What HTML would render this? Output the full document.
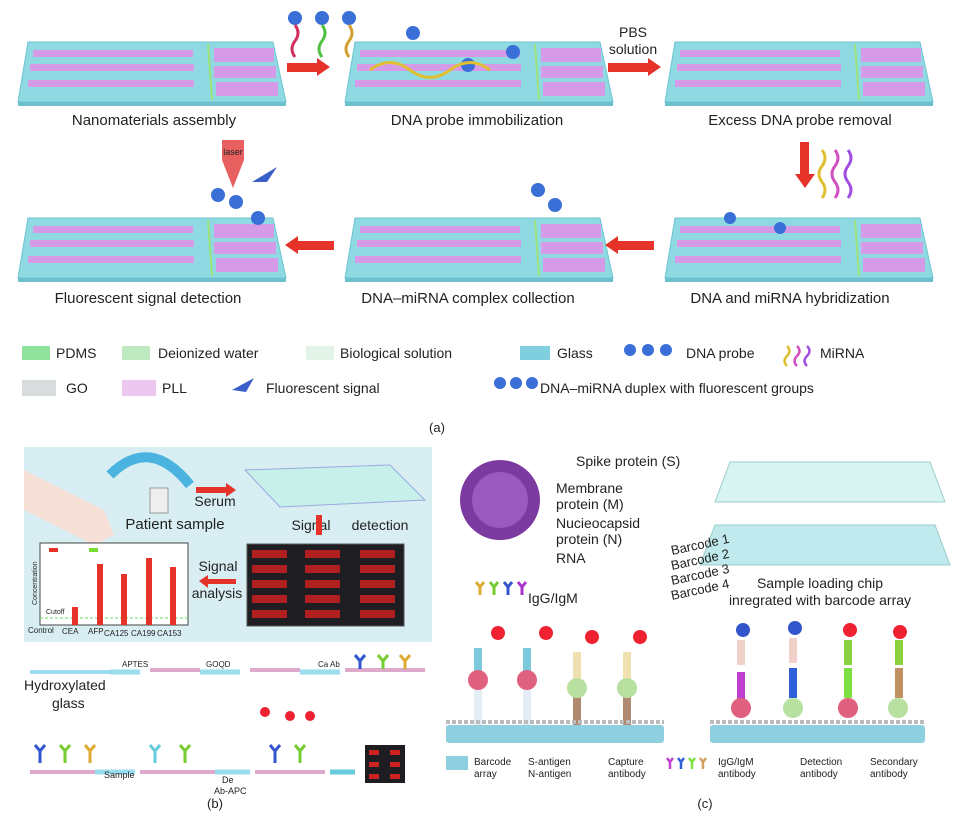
<!DOCTYPE html>
<html><head><meta charset="utf-8"><style>
body{margin:0;background:#fff}
svg{display:block}
text{font-family:"Liberation Sans",sans-serif;fill:#222}
</style></head><body>
<svg width="955" height="824" viewBox="0 0 955 824" xmlns="http://www.w3.org/2000/svg">
<defs>
<g id="chip">
<polygon points="10,0 255,0 268,60 0,60" fill="#8fd9e3" stroke="#6cc4d2"/>
<polygon points="0,60 268,60 268,64 0,64" fill="#6cc0cc"/>
<rect x="15" y="8" width="160" height="7" fill="#d59be6"/>
<rect x="12" y="22" width="164" height="7" fill="#d59be6"/>
<rect x="10" y="38" width="166" height="7" fill="#d59be6"/>
<rect x="196" y="6" width="60" height="14" fill="#d59be6"/>
<rect x="196" y="24" width="62" height="12" fill="#d59be6"/>
<rect x="198" y="40" width="62" height="14" fill="#d59be6"/>
<line x1="190" y1="2" x2="194" y2="58" stroke="#9be37a" stroke-width="2"/>
</g>
</defs>

<!-- row 1 -->
<use href="#chip" x="18" y="42"/>
<use href="#chip" x="345" y="42"/>
<use href="#chip" x="665" y="42"/>
<text x="154" y="125" font-size="15" text-anchor="middle">Nanomaterials assembly</text>
<text x="477" y="125" font-size="15" text-anchor="middle">DNA probe immobilization</text>
<text x="800" y="125" font-size="15" text-anchor="middle">Excess DNA probe removal</text>
<rect x="287" y="63" width="30" height="9" fill="#e5332a"/><polygon points="317,58 330,67 317,76" fill="#e5332a"/>
<rect x="608" y="63" width="40" height="9" fill="#e5332a"/><polygon points="648,58 661,67 648,76" fill="#e5332a"/>
<text x="633" y="37" font-size="14" text-anchor="middle">PBS</text>
<text x="633" y="54" font-size="14" text-anchor="middle">solution</text>
<g fill="#3a6fd8"><circle cx="295" cy="18" r="7"/><circle cx="322" cy="18" r="7"/><circle cx="349" cy="18" r="7"/><circle cx="413" cy="33" r="7"/><circle cx="513" cy="52" r="7"/><circle cx="468" cy="65" r="7"/></g>
<path d="M295,25 q6,8 0,16 q-6,8 0,16" stroke="#d03060" stroke-width="3" fill="none"/>
<path d="M322,25 q6,8 0,16 q-6,8 0,16" stroke="#50c040" stroke-width="3" fill="none"/>
<path d="M349,25 q6,8 0,16 q-6,8 0,16" stroke="#d0a030" stroke-width="3" fill="none"/>
<path d="M370,70 q20,-15 40,0 q20,15 40,0 q20,-15 40,0" stroke="#e0c030" stroke-width="3" fill="none"/>

<!-- row 2 -->
<use href="#chip" x="18" y="218"/>
<use href="#chip" x="345" y="218"/>
<use href="#chip" x="665" y="218"/>
<text x="148" y="303" font-size="15" text-anchor="middle">Fluorescent signal detection</text>
<text x="468" y="303" font-size="15" text-anchor="middle">DNA–miRNA complex collection</text>
<text x="790" y="303" font-size="15" text-anchor="middle">DNA and miRNA hybridization</text>
<rect x="800" y="142" width="9" height="32" fill="#e5332a"/><polygon points="795,174 805,188 815,174" fill="#e5332a"/>
<path d="M822,150 q6,8 0,16 q-6,8 0,16 q6,8 0,16" stroke="#e0c030" stroke-width="3" fill="none"/>
<path d="M835,150 q6,8 0,16 q-6,8 0,16 q6,8 0,16" stroke="#d050c0" stroke-width="3" fill="none"/>
<path d="M848,150 q6,8 0,16 q-6,8 0,16 q6,8 0,16" stroke="#a050e0" stroke-width="3" fill="none"/>
<rect x="618" y="241" width="36" height="9" fill="#e5332a"/><polygon points="618,236 605,245 618,254" fill="#e5332a"/>
<rect x="298" y="241" width="36" height="9" fill="#e5332a"/><polygon points="298,236 285,245 298,254" fill="#e5332a"/>
<polygon points="222,140 244,140 244,160 233,188 222,160" fill="#e86060"/>
<text x="233" y="155" font-size="9" text-anchor="middle" fill="#fff">laser</text>
<g fill="#3a6fd8"><circle cx="218" cy="195" r="7"/><circle cx="236" cy="202" r="7"/><circle cx="258" cy="218" r="7"/><circle cx="538" cy="190" r="7"/><circle cx="555" cy="205" r="7"/><circle cx="730" cy="218" r="6"/><circle cx="780" cy="228" r="6"/></g>
<path d="M252,182 l25,-15 l-10,15z" fill="#3a5fc8"/>

<!-- legend -->
<g font-size="14">
<rect x="22" y="346" width="28" height="14" fill="#8fe39a"/><text x="56" y="358">PDMS</text>
<rect x="122" y="346" width="28" height="14" fill="#bfe9c0"/><text x="158" y="358">Deionized water</text>
<rect x="306" y="346" width="28" height="14" fill="#e2f4e8"/><text x="340" y="358">Biological solution</text>
<rect x="520" y="346" width="30" height="14" fill="#7fcfdf"/><text x="557" y="358">Glass</text>
<circle cx="630" cy="350" r="6" fill="#3a6fd8"/><circle cx="648" cy="350" r="6" fill="#3a6fd8"/><circle cx="666" cy="350" r="6" fill="#3a6fd8"/><text x="686" y="358">DNA probe</text>
<path d="M787,346 q5,5 0,10 q-5,5 0,10" stroke="#e0c030" stroke-width="2.5" fill="none"/><path d="M797,346 q5,5 0,10 q-5,5 0,10" stroke="#d050c0" stroke-width="2.5" fill="none"/><path d="M807,346 q5,5 0,10 q-5,5 0,10" stroke="#a050e0" stroke-width="2.5" fill="none"/><text x="820" y="358">MiRNA</text>
<rect x="22" y="380" width="34" height="16" fill="#d8dcdc"/><text x="66" y="393">GO</text>
<rect x="122" y="380" width="34" height="16" fill="#ecc8f0"/><text x="162" y="393">PLL</text>
<path d="M232,390 l22,-12 l-8,14z" fill="#3a5fc8"/><text x="266" y="393">Fluorescent signal</text>
<circle cx="500" cy="383" r="6" fill="#3a6fd8"/><circle cx="516" cy="383" r="6" fill="#3a6fd8"/><circle cx="532" cy="383" r="6" fill="#3a6fd8"/><text x="540" y="393">DNA–miRNA duplex with fluorescent groups</text>
</g>
<text x="437" y="432" font-size="13" text-anchor="middle">(a)</text>

<!-- panel b -->
<rect x="24" y="447" width="408" height="195" fill="#d8eef3"/>
<path d="M110,475 q40,-40 80,10" stroke="#4ab3e0" stroke-width="10" fill="none"/>
<path d="M24,470 l80,40 l10,25 l-20,10 l-70,-35z" fill="#f6e0d8"/>
<rect x="150" y="488" width="18" height="25" fill="#eee" stroke="#999"/>
<text x="175" y="529" font-size="15" text-anchor="middle">Patient sample</text>
<rect x="196" y="487" width="30" height="6" fill="#e5332a"/><polygon points="226,483 236,490 226,497" fill="#e5332a"/>
<text x="215" y="506" font-size="14" text-anchor="middle">Serum</text>
<polygon points="245,470 390,465 425,500 280,507" fill="#c8f0ea" stroke="#9ad"/>
<text x="311" y="530" font-size="14" text-anchor="middle">Signal</text>
<text x="380" y="530" font-size="14" text-anchor="middle">detection</text>
<rect x="316" y="515" width="6" height="20" fill="#e5332a"/>
<rect x="247" y="544" width="157" height="82" fill="#1e1e22" stroke="#555"/>
<g fill="#b02020">
<rect x="252" y="550" width="35" height="8"/><rect x="305" y="550" width="35" height="8"/><rect x="360" y="550" width="35" height="8"/>
<rect x="252" y="565" width="35" height="8"/><rect x="305" y="565" width="35" height="8"/><rect x="360" y="565" width="35" height="8"/>
<rect x="252" y="580" width="35" height="8"/><rect x="305" y="580" width="35" height="8"/><rect x="360" y="580" width="35" height="8"/>
<rect x="252" y="595" width="35" height="8"/><rect x="305" y="595" width="35" height="8"/><rect x="360" y="595" width="35" height="8"/>
<rect x="252" y="610" width="35" height="8"/><rect x="305" y="610" width="35" height="8"/><rect x="360" y="610" width="35" height="8"/>
</g>
<text x="218" y="571" font-size="14" text-anchor="middle">Signal</text>
<text x="217" y="598" font-size="14" text-anchor="middle">analysis</text>
<rect x="208" y="579" width="28" height="5" fill="#e5332a"/><polygon points="208,575 199,581 208,588" fill="#e5332a"/>
<rect x="40" y="543" width="148" height="82" fill="#fff" stroke="#444"/>
<text x="37" y="605" font-size="7" transform="rotate(-90 37 605)">Concentration</text>
<line x1="40" y1="618" x2="188" y2="618" stroke="#6d6" stroke-dasharray="3,2"/>
<text x="46" y="614" font-size="7" fill="#6c6">Cutoff</text>
<rect x="49" y="548" width="9" height="4" fill="#e5332a"/><rect x="89" y="548" width="9" height="4" fill="#7d3"/>
<g fill="#e5332a"><rect x="72" y="607" width="6" height="18"/><rect x="97" y="564" width="6" height="61"/><rect x="121" y="574" width="6" height="51"/><rect x="146" y="558" width="6" height="67"/><rect x="170" y="567" width="6" height="58"/></g>
<g font-size="8" fill="#333"><text x="28" y="633">Control</text><text x="62" y="634">CEA</text><text x="88" y="634">AFP</text><text x="104" y="636">CA125</text><text x="131" y="636">CA199</text><text x="157" y="636">CA153</text></g>
<line x1="30" y1="672" x2="110" y2="672" stroke="#9de" stroke-width="4"/>
<text x="24" y="690" font-size="14">Hydroxylated</text>
<text x="52" y="708" font-size="14">glass</text>
<line x1="110" y1="672" x2="140" y2="672" stroke="#9de" stroke-width="5"/>
<text x="122" y="667" font-size="8">APTES</text>
<line x1="150" y1="670" x2="200" y2="670" stroke="#dac" stroke-width="4"/>
<text x="206" y="667" font-size="8">GOQD</text>
<line x1="200" y1="672" x2="240" y2="672" stroke="#9de" stroke-width="5"/>
<line x1="250" y1="670" x2="300" y2="670" stroke="#dac" stroke-width="4"/>
<text x="318" y="667" font-size="8">Ca Ab</text>
<line x1="300" y1="672" x2="340" y2="672" stroke="#9de" stroke-width="5"/>
<line x1="345" y1="670" x2="425" y2="670" stroke="#dac" stroke-width="4"/>
<g stroke-width="3" fill="none"><path d="M355,655 l5,6 l5,-6 M360,661 v8" stroke="#35c"/><path d="M378,655 l5,6 l5,-6 M383,661 v8" stroke="#7c3"/><path d="M400,655 l5,6 l5,-6 M405,661 v8" stroke="#da3"/></g>
<line x1="30" y1="772" x2="95" y2="772" stroke="#dac" stroke-width="4"/>
<line x1="95" y1="772" x2="135" y2="772" stroke="#9de" stroke-width="5"/>
<text x="104" y="778" font-size="9">Sample</text>
<line x1="140" y1="772" x2="215" y2="772" stroke="#dac" stroke-width="4"/>
<line x1="215" y1="772" x2="250" y2="772" stroke="#9de" stroke-width="5"/>
<text x="222" y="783" font-size="9">De</text><text x="214" y="794" font-size="9">Ab-APC</text>
<line x1="255" y1="772" x2="325" y2="772" stroke="#dac" stroke-width="4"/>
<line x1="330" y1="772" x2="355" y2="772" stroke="#6cd" stroke-width="5"/>
<rect x="365" y="745" width="40" height="38" fill="#1e1e22"/>
<g fill="#c22"><rect x="369" y="750" width="10" height="5"/><rect x="390" y="750" width="10" height="5"/><rect x="369" y="762" width="10" height="5"/><rect x="390" y="762" width="10" height="5"/><rect x="369" y="774" width="10" height="5"/><rect x="390" y="774" width="10" height="5"/></g>
<g fill="#e23"><circle cx="265" cy="712" r="5"/><circle cx="290" cy="716" r="5"/><circle cx="310" cy="716" r="5"/></g>
<g stroke-width="3" fill="none"><path d="M35,745 l5,6 l5,-6 M40,751 v12" stroke="#35c"/><path d="M60,745 l5,6 l5,-6 M65,751 v12" stroke="#7c3"/><path d="M85,745 l5,6 l5,-6 M90,751 v12" stroke="#da3"/><path d="M150,745 l5,6 l5,-6 M155,751 v12" stroke="#6cd"/><path d="M180,745 l5,6 l5,-6 M185,751 v12" stroke="#7c3"/><path d="M270,745 l5,6 l5,-6 M275,751 v12" stroke="#35c"/><path d="M295,745 l5,6 l5,-6 M300,751 v12" stroke="#7c3"/></g>
<text x="215" y="808" font-size="13" text-anchor="middle">(b)</text>

<!-- panel c -->
<circle cx="500" cy="500" r="40" fill="#7a3aa0"/><circle cx="500" cy="500" r="28" fill="#9a5ac0"/>
<g font-size="14">
<text x="576" y="466">Spike protein (S)</text>
<text x="556" y="493">Membrane</text><text x="556" y="509">protein (M)</text>
<text x="556" y="528">Nucieocapsid</text><text x="556" y="544">protein (N)</text>
<text x="556" y="563">RNA</text>
<text x="528" y="603">IgG/IgM</text>
</g>
<g stroke-width="3" fill="none"><path d="M476,582 l4,5 l4,-5 M480,587 v8" stroke="#da3"/><path d="M490,582 l4,5 l4,-5 M494,587 v8" stroke="#7c3"/><path d="M504,582 l4,5 l4,-5 M508,587 v8" stroke="#35c"/><path d="M518,582 l4,5 l4,-5 M522,587 v8" stroke="#a3c"/></g>
<polygon points="730,462 930,462 945,502 715,502" fill="#d8f4f2" stroke="#9cc"/>
<polygon points="715,525 935,525 950,565 700,565" fill="#bfe9ec" stroke="#9cc"/>
<g font-size="13"><text x="672" y="555" transform="rotate(-12 672 555)">Barcode 1</text><text x="672" y="570" transform="rotate(-12 672 570)">Barcode 2</text><text x="672" y="585" transform="rotate(-12 672 585)">Barcode 3</text><text x="672" y="600" transform="rotate(-12 672 600)">Barcode 4</text></g>
<text x="820" y="588" font-size="14" text-anchor="middle">Sample loading chip</text>
<text x="820" y="605" font-size="14" text-anchor="middle">inregrated with barcode array</text>
<!-- stems -->
<g>
<rect x="474" y="690" width="8" height="35" fill="#e4ecf6"/><rect x="523" y="690" width="8" height="35" fill="#e4ecf6"/>
<rect x="573" y="690" width="8" height="35" fill="#b08a70"/><rect x="623" y="690" width="8" height="35" fill="#b08a70"/>
<rect x="474" y="648" width="8" height="30" fill="#7cc8dc"/><rect x="523" y="648" width="8" height="30" fill="#7cc8dc"/>
<rect x="573" y="652" width="8" height="30" fill="#f0e0b0"/><rect x="623" y="652" width="8" height="30" fill="#f0e0b0"/>
<rect x="737" y="672" width="8" height="28" fill="#c040d0"/><rect x="789" y="668" width="8" height="30" fill="#2f5fd8"/>
<rect x="844" y="668" width="8" height="30" fill="#7ce040"/><rect x="895" y="668" width="8" height="30" fill="#c09060"/>
<rect x="737" y="640" width="8" height="25" fill="#f0d0c8"/><rect x="789" y="638" width="8" height="25" fill="#f0d0c8"/>
<rect x="844" y="640" width="8" height="25" fill="#8cd040"/><rect x="895" y="640" width="8" height="25" fill="#8cd040"/>
</g>
<rect x="446" y="725" width="218" height="18" rx="3" fill="#8fd0e0"/>
<rect x="710" y="725" width="215" height="18" rx="3" fill="#8fd0e0"/>
<line x1="446" y1="722" x2="664" y2="722" stroke="#bbb" stroke-width="4" stroke-dasharray="4,2"/>
<line x1="710" y1="722" x2="925" y2="722" stroke="#bbb" stroke-width="4" stroke-dasharray="4,2"/>
<g fill="#e06080"><circle cx="478" cy="680" r="10"/><circle cx="527" cy="680" r="10"/><circle cx="741" cy="708" r="10"/><circle cx="848" cy="708" r="10"/></g>
<g fill="#b8e0a0"><circle cx="577" cy="688" r="10"/><circle cx="627" cy="688" r="10"/><circle cx="793" cy="708" r="10"/><circle cx="898" cy="708" r="10"/></g>
<g fill="#e23"><circle cx="498" cy="633" r="7"/><circle cx="546" cy="633" r="7"/><circle cx="592" cy="637" r="7"/><circle cx="640" cy="637" r="7"/><circle cx="850" cy="630" r="7"/><circle cx="900" cy="632" r="7"/></g>
<g fill="#35c"><circle cx="743" cy="630" r="7"/><circle cx="795" cy="628" r="7"/></g>
<g font-size="10"><text x="474" y="765">Barcode</text><text x="474" y="777">array</text><text x="528" y="765">S-antigen</text><text x="528" y="777">N-antigen</text><text x="608" y="765">Capture</text><text x="608" y="777">antibody</text><text x="718" y="765">IgG/IgM</text><text x="718" y="777">antibody</text><text x="800" y="765">Detection</text><text x="800" y="777">antibody</text><text x="870" y="765">Secondary</text><text x="870" y="777">antibody</text></g>
<g stroke-width="2.5" fill="none"><path d="M667,758 l3,4 l3,-4 M670,762 v7" stroke="#c040d0"/><path d="M678,758 l3,4 l3,-4 M681,762 v7" stroke="#2f5fd8"/><path d="M689,758 l3,4 l3,-4 M692,762 v7" stroke="#7ce040"/><path d="M700,758 l3,4 l3,-4 M703,762 v7" stroke="#d0a060"/></g>
<rect x="446" y="756" width="22" height="14" fill="#8fd0e0"/>
<text x="705" y="808" font-size="13" text-anchor="middle">(c)</text>
</svg>
</body></html>
